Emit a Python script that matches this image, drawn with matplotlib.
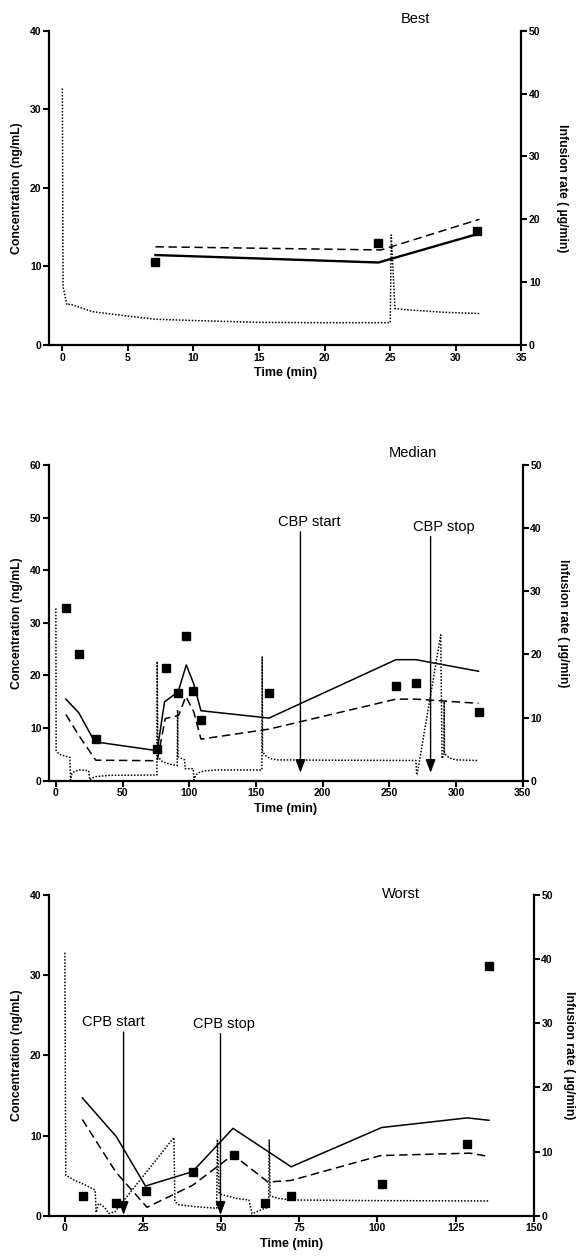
import matplotlib
matplotlib.use("Agg")
from matplotlib import pyplot as plt

plt.rcParams['font.family'] = ['Liberation Sans', 'DejaVu Sans']

# ---- Best ----
best_obs_t = [7.1, 24.1, 31.6]
best_obs_c = [10.5, 13.0, 14.5]
best_solid_t = [7.1, 24.1, 31.6]
best_solid_c = [11.45, 10.5, 14.1]
best_dash_t = [7.1, 24.3, 31.8]
best_dash_c = [12.5, 12.1, 16.0]
best_inf_t = [0.0, 0.06, 0.34, 0.6, 2.3, 5.0, 7.1, 9.9, 15.0, 19.8, 25.0, 25.08, 25.36, 26.3, 29.1, 31.9]
best_inf_r = [40.8, 9.3, 6.4, 6.5, 5.3, 4.6, 4.1, 3.9, 3.6, 3.55, 3.55, 17.5, 5.8, 5.6, 5.2, 5.0]

# ---- Median ----
med_obs_t = [7.5, 17.2, 29.9, 75.6, 82.3, 91.5, 97.8, 103.0, 109.0, 159.8, 255.0, 270.0, 317.0]
med_obs_c = [32.9, 24.0, 8.0, 6.0, 21.5, 16.6, 27.5, 17.0, 11.5, 16.6, 18.0, 18.6, 13.1]
med_solid_t = [7.5, 17.2, 29.1, 76.0, 81.5, 91.7, 97.8, 103.4, 108.8, 159.8, 255.0, 270.0, 317.0]
med_solid_c = [15.5, 12.9, 7.4, 5.7, 15.0, 16.9, 22.0, 18.4, 13.3, 11.9, 23.0, 23.0, 20.8]
med_dash_t = [7.5, 17.2, 29.9, 76.0, 82.0, 92.0, 97.5, 103.4, 108.8, 159.8, 255.0, 270.0, 317.0]
med_dash_c = [12.6, 8.6, 3.9, 3.8, 11.8, 12.4, 16.0, 13.1, 7.9, 9.8, 15.5, 15.5, 14.7]
med_inf_t = [0.0, 0.2, 1.5, 3.5, 7.0, 10.5, 11.0, 12.0, 14.0, 18.0, 24.5, 25.5, 27.0, 30.0, 40.0,
             75.8, 76.0, 76.4, 80.0, 86.0, 91.0, 91.3, 91.6, 96.5, 97.0, 103.0, 103.5, 105.0, 106.5,
             111.0, 121.0, 154.5, 154.7, 155.0, 157.0, 160.7, 166.0, 200.0, 270.0, 270.6, 271.9,
             288.6, 289.6, 291.0, 291.2, 291.4, 295.0, 300.0, 316.0]
med_inf_r = [27.3, 4.8, 4.4, 4.1, 3.9, 3.7, 0.1, 1.1, 1.5, 1.7, 1.6, 0.1, 0.4, 0.65, 0.85,
             0.9, 18.9, 3.8, 3.0, 2.6, 2.4, 11.2, 3.8, 3.3, 1.9, 1.9, 0.1, 0.9, 1.2,
             1.55, 1.7, 1.7, 19.6, 4.6, 4.0, 3.5, 3.3, 3.25, 3.2, 0.9, 2.2,
             23.1, 3.5, 4.2, 12.5, 4.3, 3.6, 3.3, 3.2]

# ---- Worst ----
wst_obs_t = [5.7, 16.5, 26.0, 40.9, 54.1, 64.0, 72.4, 101.4, 128.8, 135.7]
wst_obs_c = [2.5, 1.55, 3.1, 5.5, 7.6, 1.55, 2.5, 4.0, 9.0, 31.1]
wst_solid_t = [5.6, 16.5, 25.8, 40.9, 53.8, 72.4, 101.4, 128.7, 135.7]
wst_solid_c = [14.7, 9.85, 3.7, 5.5, 10.9, 6.1, 11.0, 12.2, 11.9]
wst_dash_t = [5.6, 16.4, 26.3, 40.9, 53.8, 65.0, 72.4, 101.0, 129.6, 135.5]
wst_dash_c = [12.0, 5.4, 1.05, 3.8, 7.6, 4.2, 4.4, 7.5, 7.8, 7.4]
wst_inf_t = [0.0, 0.3, 3.2, 6.5, 9.7, 10.0, 10.8, 12.0, 13.0, 14.0, 16.0, 34.9, 35.2, 36.6, 42.0,
             48.6, 48.8, 49.4, 54.8, 58.9, 59.9, 64.0, 65.2, 65.4, 65.7, 68.3, 72.6, 100.0, 135.5]
wst_inf_r = [41.0, 6.3, 5.5, 4.8, 4.0, 0.5, 1.9, 1.6, 1.1, 0.35, 0.6, 12.2, 2.2, 1.7, 1.4,
             1.15, 11.9, 3.4, 2.7, 2.45, 0.3, 1.15, 1.3, 11.8, 3.1, 2.7, 2.45, 2.35, 2.3]

# arrows: (time, text x, text y, arrow top, arrow tip, label)
med_arrows = [(183.4, 190.3, 49.1, 47.3, 1.5, "CBP start"),
              (281.0, 291.0, 48.2, 46.4, 1.5, "CBP stop")]
wst_arrows = [(18.8, 15.6, 24.2, 22.9, 0.1, "CPB start"),
              (49.8, 50.8, 23.9, 22.7, 0.1, "CPB stop")]

W, H = 577, 1257
fig = plt.figure(figsize=(W / 100, H / 100), dpi=100)


def px_axes(l, r, t, b):
    return fig.add_axes([l / W, 1 - b / H, (r - l) / W, (b - t) / H])


def style(ax, ax2, xlim, xticks, ylim, yticks, lpad_x, rlab_x):
    for a in (ax, ax2):
        a.spines['top'].set_visible(False)
        for s in ('left', 'bottom', 'right'):
            a.spines[s].set_linewidth(1.6)
        a.tick_params(direction='out', length=4, width=1.5, labelsize=7.5, pad=1.5)
    ax.spines['right'].set_visible(False)
    ax2.spines['left'].set_visible(False)
    ax2.spines['bottom'].set_visible(False)
    ax.set_xlim(*xlim)
    ax.set_xticks(xticks)
    ax.set_ylim(*ylim)
    ax.set_yticks(yticks)
    ax2.set_ylim(0, 50)
    ax2.set_yticks(range(0, 51, 10))
    for lab in ax.get_xticklabels() + ax.get_yticklabels() + ax2.get_yticklabels():
        lab.set_fontweight('bold')
    ax.set_ylabel("Concentration (ng/mL)", fontsize=8.8, fontweight='bold')
    ax.yaxis.set_label_coords(lpad_x, 0.5)
    ax2.set_ylabel("Infusion rate ( \u00b5g/min)", fontsize=8.8, fontweight='bold', rotation=270)
    ax2.yaxis.set_label_coords(rlab_x, 0.5)
    ax.set_xlabel("Time (min)", fontsize=9, fontweight='bold', labelpad=3)


def draw(ax, ax2, obs_t, obs_c, st, sc, dt, dc, it, ir, lw_solid=1.1):
    ax2.plot(it, ir, color='black', linestyle=(0, (1, 1.1)), linewidth=1.1)
    ax.plot(dt, dc, color='black', linestyle=(0, (5.5, 3)), linewidth=1.1)
    ax.plot(st, sc, color='black', linestyle='-', linewidth=lw_solid)
    ax.plot(obs_t, obs_c, 's', color='black', markersize=5.2, clip_on=False)


def arrows(ax, items):
    for t, tx, ty, top, tip, lab in items:
        ax.annotate('', xy=(t, tip), xytext=(t, top),
                    arrowprops=dict(arrowstyle='-|>,head_length=0.8,head_width=0.3',
                                    color='black', lw=1.0, shrinkA=0, shrinkB=0))
        ax.text(tx, ty, lab, fontsize=10.5, ha='center', va='center')


# panel 1
ax = px_axes(49.2, 521.4, 30.7, 345.0)
ax2 = ax.twinx()
draw(ax, ax2, best_obs_t, best_obs_c, best_solid_t, best_solid_c,
     best_dash_t, best_dash_c, best_inf_t, best_inf_r, lw_solid=1.7)
style(ax, ax2, (-1, 35), range(0, 36, 5), (0, 40), range(0, 41, 10), -0.056, 1.098)
ax.text(26.9, 1.037, "Best", transform=ax.get_xaxis_transform(), fontsize=10.5, ha='center', va='center')

# panel 2
ax = px_axes(49.2, 522.6, 465.0, 780.7)
ax2 = ax.twinx()
draw(ax, ax2, med_obs_t, med_obs_c, med_solid_t, med_solid_c,
     med_dash_t, med_dash_c, med_inf_t, med_inf_r)
style(ax, ax2, (-5, 350), range(0, 351, 50), (0, 60), range(0, 61, 10), -0.056, 1.098)
arrows(ax, med_arrows)
ax.text(268, 1.038, "Median", transform=ax.get_xaxis_transform(), fontsize=10.5, ha='center', va='center')

# panel 3
ax = px_axes(49.2, 533.7, 895.0, 1215.7)
ax2 = ax.twinx()
draw(ax, ax2, wst_obs_t, wst_obs_c, wst_solid_t, wst_solid_c,
     wst_dash_t, wst_dash_c, wst_inf_t, wst_inf_r)
style(ax, ax2, (-5, 150), range(0, 151, 25), (0, 40), range(0, 41, 10), -0.055, 1.085)
arrows(ax, wst_arrows)
ax.text(107.6, 1.003, "Worst", transform=ax.get_xaxis_transform(), fontsize=10.5, ha='center', va='center')

fig.savefig("out.png", dpi=100)
